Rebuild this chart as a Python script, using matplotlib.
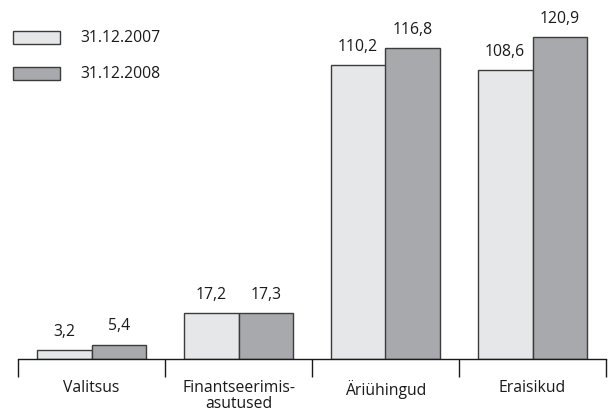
import matplotlib.pyplot as plt
from matplotlib.patches import Rectangle
import numpy as np

plt.rcParams['font.family'] = ['Open Sans', 'DejaVu Sans']

categories = ['Valitsus', 'Finantseerimis-\nasutused', 'Äriühingud', 'Eraisikud']
series_names = ['31.12.2007', '31.12.2008']
values_2007 = [3.2, 17.2, 110.2, 108.6]
values_2008 = [5.4, 17.3, 116.8, 120.9]

light = '#e6e7e8'
dark = '#a7a9ac'
edge = '#3c3c3c'

W, H = 610, 415
fig = plt.figure(figsize=(W / 100, H / 100), dpi=100)
# axes from the baseline (y=359 px) to the top of the figure
ax = fig.add_axes([18 / W, 56 / H, 588 / W, 359 / H])

x = np.arange(len(categories))
bw = 0.374
ymax = 120.9 * 359 / 322
ax.set_xlim(-0.5, len(categories) - 0.5)
ax.set_ylim(0, ymax)

fs = 11.3
for vals, off, col in [(values_2007, -bw / 2, light), (values_2008, bw / 2, dark)]:
    bars = ax.bar(x + off, vals, bw, color=col, edgecolor=edge, linewidth=1.0)
    for b, v in zip(bars, vals):
        ax.text(b.get_x() + b.get_width() / 2, v + 3.8, f'{v:.1f}'.replace('.', ','),
                ha='center', va='bottom', fontsize=fs, color='#1a1a1a')

for s in ['top', 'right', 'left']:
    ax.spines[s].set_visible(False)
ax.spines['bottom'].set_color('#1a1a1a')
ax.spines['bottom'].set_linewidth(1.0)
ax.set_yticks([])

# tick marks between categories, labels centred under each group
ax.set_xticks(np.arange(len(categories) + 1) - 0.5)
ax.set_xticklabels([])
ax.tick_params(axis='x', direction='out', length=13, width=1.0, color='#1a1a1a')
for i, c in enumerate(categories):
    ax.text(i, -7.8, c, ha='center', va='top', fontsize=fs, color='#1a1a1a',
            linespacing=1.0)

# legend
for j, (name, col) in enumerate(zip(series_names, [light, dark])):
    yc = 38 + 36 * j
    fig.patches.append(Rectangle((13 / W, 1 - (yc + 6.5) / H), 47 / W, 13 / H,
                                 transform=fig.transFigure, facecolor=col,
                                 edgecolor=edge, linewidth=1.0))
    fig.text(80 / W, 1 - yc / H, name, ha='left', va='center', fontsize=fs,
             color='#1a1a1a')

fig.savefig('out.png', dpi=100)
